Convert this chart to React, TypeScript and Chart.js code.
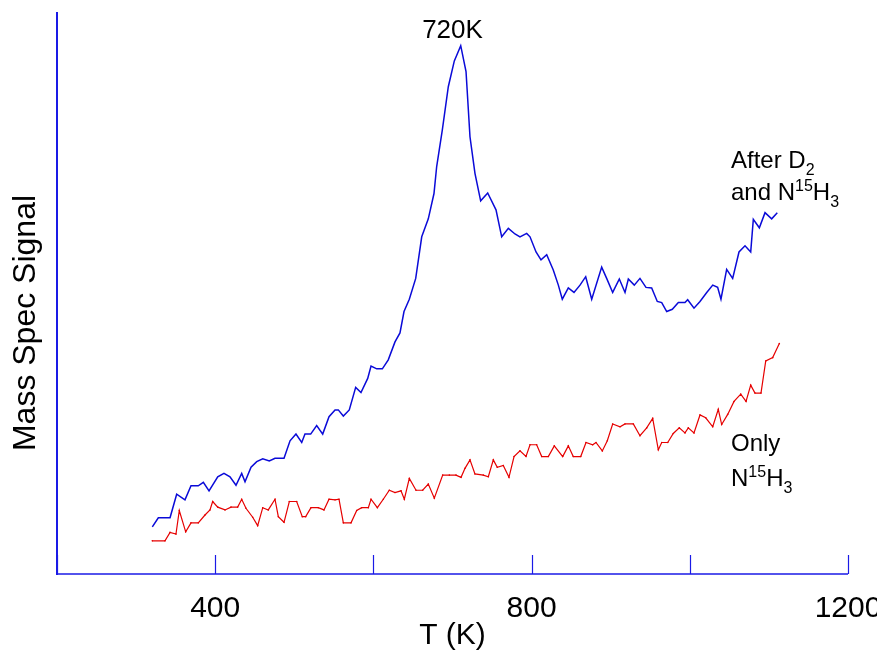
import React, { useEffect, useRef } from "react";
import { Chart, registerables } from "chart.js";

Chart.register(...registerables);

// Temperature (K) and mass spec signal (a.u., 0-100) — after D2 and N15H3
const T_BLUE = [320.5, 328.1, 342.9, 351.3, 361.8, 369.4, 378.6, 385.0, 392.2, 403.2, 411.1, 418.7, 426.3, 433.5, 437.7, 445.3, 452.5, 460.1, 468.4, 475.6, 487.0, 494.6, 502.1, 509.4, 513.5, 520.7, 528.3, 535.9, 543.9, 551.5, 555.6, 562.0, 569.5, 577.6, 584.3, 592.8, 597.0, 604.2, 611.3, 618.8, 627.3, 633.6, 638.7, 645.4, 653.5, 661.1, 669.4, 676.6, 680.0, 687.1, 694.7, 702.3, 710.4, 717.1, 722.1, 728.4, 735.6, 744.5, 755.0, 762.2, 770.6, 779.0, 785.3, 793.8, 798.0, 805.6, 811.9, 819.1, 827.4, 833.8, 838.8, 846.4, 853.6, 861.2, 868.4, 876.0, 888.6, 894.9, 902.5, 910.9, 918.1, 922.3, 929.8, 937.0, 944.6, 951.8, 958.9, 964.5, 970.8, 977.9, 985.5, 993.9, 997.3, 1005.3, 1012.9, 1021.4, 1029.0, 1035.2, 1039.4, 1046.6, 1054.2, 1062.2, 1069.8, 1077.0, 1080.3, 1087.9, 1095.1, 1103.5, 1110.6];
const S_BLUE = [8.4, 10.0, 10.0, 14.2, 13.2, 15.7, 15.7, 16.3, 14.8, 17.3, 17.9, 17.3, 15.8, 17.9, 16.4, 19.0, 20.0, 20.5, 20.1, 20.6, 20.6, 23.7, 24.9, 23.4, 24.9, 24.9, 26.4, 24.9, 28.0, 29.2, 29.2, 28.1, 29.2, 33.2, 32.3, 34.8, 37.0, 36.5, 36.5, 38.1, 41.3, 42.9, 46.7, 48.9, 52.6, 60.0, 63.2, 67.7, 72.5, 79.0, 86.7, 91.3, 94.0, 89.4, 77.8, 71.3, 66.4, 67.8, 64.8, 60.0, 61.5, 60.5, 60.0, 60.6, 60.0, 57.3, 55.9, 56.8, 54.1, 51.4, 48.9, 50.9, 50.1, 51.4, 52.9, 48.9, 54.6, 52.6, 50.1, 52.5, 50.1, 52.5, 51.4, 52.6, 51.0, 50.9, 48.5, 48.3, 46.7, 47.1, 48.3, 48.3, 48.8, 47.3, 48.5, 50.1, 51.4, 51.0, 48.9, 54.2, 52.6, 57.3, 58.4, 57.3, 63.1, 61.6, 64.3, 63.2, 64.3];

// Only N15H3
const T_RED = [320.5, 336.5, 342.9, 350.4, 354.6, 362.7, 369.4, 378.6, 387.1, 393.4, 396.8, 403.2, 412.4, 420.0, 428.4, 433.5, 438.9, 447.4, 453.7, 460.1, 467.1, 475.6, 479.8, 487.0, 493.7, 503.0, 510.1, 514.4, 521.1, 530.3, 537.5, 543.9, 551.5, 556.5, 562.0, 571.7, 578.9, 585.2, 593.6, 597.0, 605.0, 612.5, 620.1, 627.3, 634.9, 639.1, 645.4, 653.9, 662.3, 669.4, 677.0, 687.6, 696.0, 704.4, 710.8, 715.8, 722.1, 728.4, 738.9, 745.3, 751.6, 756.6, 764.2, 771.4, 777.8, 785.3, 792.9, 798.0, 806.4, 812.8, 821.1, 828.7, 839.3, 846.4, 852.7, 862.1, 868.8, 877.2, 881.4, 889.4, 895.7, 902.5, 911.8, 918.1, 928.6, 937.0, 945.5, 953.1, 960.2, 964.5, 972.1, 979.1, 986.7, 993.9, 998.1, 1005.3, 1012.9, 1020.1, 1029.0, 1036.0, 1040.3, 1047.9, 1055.9, 1064.4, 1071.1, 1077.0, 1082.4, 1090.0, 1096.0, 1104.8, 1113.2];
const S_RED = [5.9, 5.9, 7.4, 7.1, 11.3, 7.5, 9.1, 9.1, 10.5, 11.4, 12.9, 11.9, 11.4, 11.9, 11.9, 13.3, 11.7, 10.1, 8.6, 11.8, 11.4, 13.3, 10.2, 9.2, 12.9, 12.9, 10.2, 10.2, 11.8, 11.8, 11.4, 13.3, 13.2, 13.3, 9.1, 9.1, 11.3, 11.8, 11.8, 13.3, 11.8, 13.3, 14.9, 14.5, 14.8, 13.3, 17.0, 14.9, 14.9, 16.0, 13.5, 17.6, 17.6, 17.6, 17.2, 18.8, 20.3, 17.8, 17.6, 17.3, 20.3, 19.0, 19.3, 17.2, 20.9, 21.9, 20.9, 23.0, 23.0, 20.9, 20.9, 22.8, 20.9, 22.8, 20.9, 20.9, 23.4, 23.0, 23.4, 21.9, 23.7, 26.7, 26.2, 26.7, 26.7, 24.6, 26.0, 27.7, 22.1, 23.4, 23.4, 25.0, 26.0, 25.1, 26.0, 25.1, 28.3, 27.8, 26.2, 29.3, 26.6, 28.4, 30.7, 32.0, 30.7, 33.6, 32.2, 32.2, 37.9, 38.5, 41.0];

const X_TICKS = [200, 400, 600, 800, 1000, 1200];
const X_LABELS = [400, 800, 1200];
const X_TITLE = "T (K)";
const Y_TITLE = "Mass Spec Signal";
const PEAK_LABEL = "720K";

const BLUE = "#0a0ad8";
const RED = "#e60000";
const FONT = "'Liberation Sans', Arial, sans-serif";

type Part = { t: string; size: number; dy: number };

function drawRich(ctx: CanvasRenderingContext2D, parts: Part[], x: number, y: number) {
  let cx = x;
  for (const p of parts) {
    ctx.font = `${p.size}px ${FONT}`;
    ctx.fillText(p.t, cx, y + p.dy);
    cx += ctx.measureText(p.t).width;
  }
}

const axesPlugin = {
  id: "customAxes",
  afterDraw(chart: any) {
    const ctx: CanvasRenderingContext2D = chart.ctx;
    const xs = chart.scales.x;
    const area = chart.chartArea;
    ctx.save();
    // axis lines
    ctx.strokeStyle = "#1a1ae6";
    ctx.lineWidth = 2;
    ctx.beginPath();
    ctx.moveTo(area.left, area.top);
    ctx.lineTo(area.left, area.bottom + 1);
    ctx.stroke();
    ctx.lineWidth = 1.5;
    ctx.beginPath();
    ctx.moveTo(area.left, area.bottom);
    ctx.lineTo(area.right, area.bottom);
    ctx.stroke();
    // inward tick marks
    ctx.lineWidth = 1.2;
    for (const v of X_TICKS) {
      const px = Math.round(xs.getPixelForValue(v)) + 0.5;
      ctx.beginPath();
      ctx.moveTo(px, area.bottom);
      ctx.lineTo(px, area.bottom - 19);
      ctx.stroke();
    }
    // tick labels
    ctx.fillStyle = "#000";
    ctx.textAlign = "center";
    ctx.textBaseline = "alphabetic";
    ctx.font = `30px ${FONT}`;
    for (const v of X_LABELS) {
      ctx.fillText(String(v), xs.getPixelForValue(v), area.bottom + 43);
    }
    // x title
    ctx.font = `30px ${FONT}`;
    ctx.fillText(X_TITLE, (area.left + area.right) / 2, area.bottom + 70);
    // y title
    ctx.save();
    ctx.translate(35, 323);
    ctx.rotate(-Math.PI / 2);
    ctx.font = `32px ${FONT}`;
    ctx.textAlign = "center";
    ctx.fillText(Y_TITLE, 0, 0);
    ctx.restore();
    // annotations
    ctx.font = `26px ${FONT}`;
    ctx.textAlign = "center";
    ctx.fillText(PEAK_LABEL, xs.getPixelForValue(700), 38);
    ctx.textAlign = "left";
    const lx = 731;
    drawRich(ctx, [{ t: "After D", size: 24, dy: 0 }, { t: "2", size: 16, dy: 7 }], lx, 168);
    drawRich(ctx, [
      { t: "and N", size: 24, dy: 0 },
      { t: "15", size: 16, dy: -9 },
      { t: "H", size: 24, dy: 0 },
      { t: "3", size: 16, dy: 7 },
    ], lx, 200);
    drawRich(ctx, [{ t: "Only", size: 24, dy: 0 }], lx, 451);
    drawRich(ctx, [
      { t: "N", size: 24, dy: 0 },
      { t: "15", size: 16, dy: -9 },
      { t: "H", size: 24, dy: 0 },
      { t: "3", size: 16, dy: 7 },
    ], lx, 486);
    ctx.restore();
  },
};

export default function App() {
  const ref = useRef<HTMLCanvasElement | null>(null);
  useEffect(() => {
    if (!ref.current) return;
    const blue = T_BLUE.map((t, i) => ({ x: t, y: S_BLUE[i] }));
    const red = T_RED.map((t, i) => ({ x: t, y: S_RED[i] }));
    const chart = new Chart(ref.current, {
      type: "line",
      data: {
        datasets: [
          {
            label: "After D2 and N15H3",
            data: blue,
            borderColor: BLUE,
            borderWidth: 1.5,
            pointRadius: 0,
            tension: 0,
          },
          {
            label: "Only N15H3",
            data: red,
            borderColor: RED,
            backgroundColor: RED,
            borderWidth: 1.2,
            pointRadius: 0.8,
            pointBorderWidth: 0,
            tension: 0,
          },
        ],
      },
      options: {
        responsive: false,
        animation: false,
        layout: { padding: { left: 57, right: 29, top: 12, bottom: 78 } },
        scales: {
          x: { type: "linear", min: 200, max: 1200, display: false },
          y: { min: 0, max: 100, display: false },
        },
        plugins: { legend: { display: false }, tooltip: { enabled: false } },
      },
      plugins: [axesPlugin],
    });
    return () => chart.destroy();
  }, []);
  return (
    <div style={{ position: "fixed", left: 0, top: 0, width: 877, height: 652, background: "#fff" }}>
      <canvas ref={ref} width={877} height={652} />
    </div>
  );
}
